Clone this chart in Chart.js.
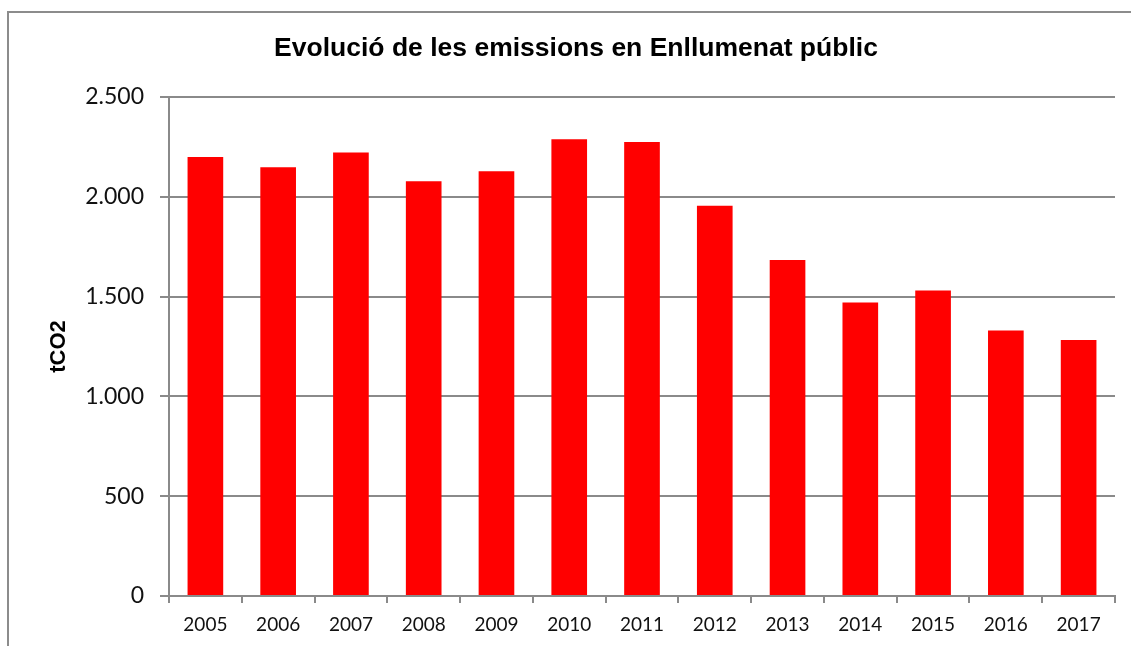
<!DOCTYPE html>
<html><head><meta charset="utf-8">
<script src="https://cdn.jsdelivr.net/npm/chart.js@4"></script>
<style>
html,body{margin:0;padding:0;background:#fff;overflow:hidden;}
#wrap{position:relative;width:1131px;height:646px;overflow:hidden;background:#fff;}
#frame{position:absolute;left:7px;top:11px;width:1200px;height:700px;border:2px solid #8c8c8c;}
canvas{position:absolute;left:0;top:0;}
</style></head><body>
<div id="wrap"><div id="frame"></div><canvas id="c" width="1131" height="646"></canvas></div>
<script>
const categories = ['2005','2006','2007','2008','2009','2010','2011','2012','2013','2014','2015','2016','2017'];
const emissions = [2200, 2148, 2222, 2078, 2128, 2288, 2275, 1955, 1683, 1470, 1530, 1330, 1283];
const yTicks = [0, 500, 1000, 1500, 2000, 2500];
const yTickLabels = ['0', '500', '1.000', '1.500', '2.000', '2.500'];
const titleText = 'Evolució de les emissions en Enllumenat públic';
const yTitleText = 'tCO2';

const gridColor = '#8a8a8a';
new Chart(document.getElementById('c'), {
  type: 'bar',
  data: {
    labels: categories,
    datasets: [{
      label: yTitleText,
      data: emissions,
      backgroundColor: '#ff0000',
      borderWidth: 0,
      barPercentage: 0.49,
      categoryPercentage: 1
    }]
  },
  options: {
    responsive: false,
    animation: false,
    layout: { padding: { left: 37, right: 16, top: 0, bottom: 0 } },
    plugins: {
      legend: { display: false },
      tooltip: { enabled: false },
      title: {
        display: true,
        text: titleText,
        color: '#000',
        font: { family: 'Liberation Sans', size: 26.5, weight: 'bold', lineHeight: 1.2 },
        padding: { top: 33, bottom: 32.2 }
      }
    },
    scales: {
      x: {
        afterFit: s => { s.height = 50; },
        grid: { display: true, drawOnChartArea: false, drawTicks: true, tickLength: 7, color: gridColor, lineWidth: 2, offset: true },
        border: { display: true, color: gridColor, width: 2 },
        ticks: { color: '#111', font: { family: 'Lato', size: 19 }, padding: 10, maxRotation: 0, autoSkip: false }
      },
      y: {
        min: 0, max: 2500,
        afterFit: s => { s.width = 132; },
        afterBuildTicks: s => { s.ticks = yTicks.map(v => ({ value: v })); },
        grid: { color: gridColor, lineWidth: 2, tickLength: 9, drawTicks: true },
        border: { display: true, color: gridColor, width: 2 },
        ticks: {
          color: '#111', font: { family: 'Lato', size: 23 }, padding: 16,
          callback: v => { const i = yTicks.indexOf(v); return i >= 0 ? yTickLabels[i] : ''; }
        },
        title: {
          display: true, text: yTitleText, color: '#000',
          font: { family: 'Liberation Sans', size: 22, weight: 'bold', lineHeight: 1.2 },
          padding: { top: 9, bottom: 0 }
        }
      }
    }
  }
});
</script>
</body></html>
